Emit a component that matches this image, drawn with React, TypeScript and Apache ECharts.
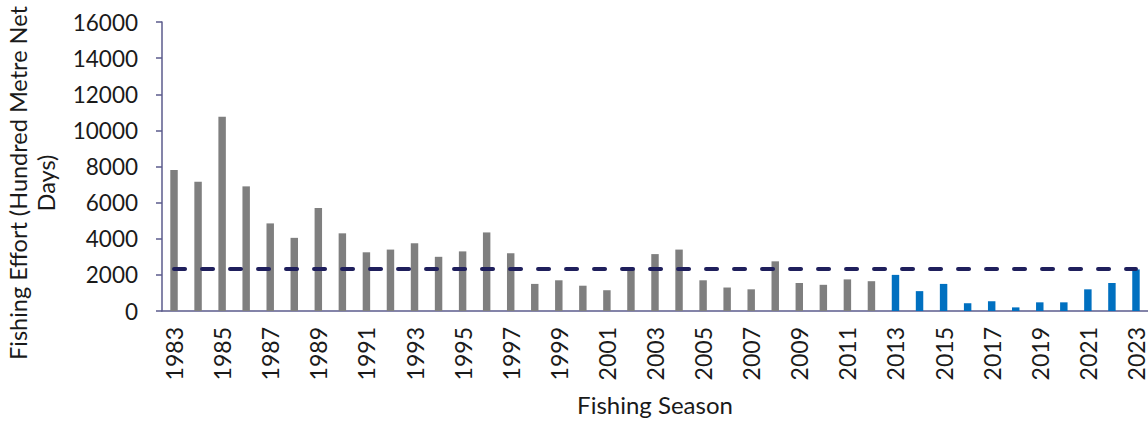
import React, { useEffect, useRef } from "react";
import * as echarts from "echarts";

const seasons: string[] = [
  "1983","1984","1985","1986","1987","1988","1989","1990","1991","1992",
  "1993","1994","1995","1996","1997","1998","1999","2000","2001","2002",
  "2003","2004","2005","2006","2007","2008","2009","2010","2011","2012",
  "2013","2014","2015","2016","2017","2018","2019","2020","2021","2022","2023",
];

const effort: number[] = [
  7800, 7150, 10750, 6900, 4850, 4050, 5700, 4300, 3250, 3400,
  3750, 3000, 3300, 4350, 3200, 1500, 1700, 1400, 1150, 2300,
  3150, 3400, 1700, 1300, 1200, 2750, 1550, 1450, 1750, 1650,
  2000, 1100, 1500, 430, 540, 200, 480, 480, 1200, 1550, 2300,
];

const referenceLevel = 2330;
const recentFromSeason = "2013";

const yTicks = { min: 0, max: 16000, interval: 2000 };

const yTitle = "Fishing Effort (Hundred Metre Net\nDays)";
const xTitle = "Fishing Season";

export default function App() {
  const ref = useRef<HTMLDivElement>(null);

  useEffect(() => {
    document.body.style.margin = "0";
    if (!ref.current) return;
    const chart = echarts.init(ref.current, undefined, { renderer: "svg" });
    const splitIdx = seasons.indexOf(recentFromSeason);
    const font = "Lato, 'Noto Sans', sans-serif";
    const textColor = "#1a1a1a";
    const axisColor = "#5b5b8c";

    chart.setOption({
      animation: false,
      textStyle: { fontFamily: font },
      grid: { left: 162, right: -3, top: 22, bottom: 110, containLabel: false },
      graphic: [
        {
          type: "text",
          x: 32,
          y: 183,
          rotation: Math.PI / 2,
          style: {
            text: yTitle,
            fontFamily: font,
            fontSize: 23.5,
            lineHeight: 28,
            fill: textColor,
            align: "center",
            verticalAlign: "middle",
          },
        },
      ],
      xAxis: {
        type: "category",
        data: seasons,
        boundaryGap: true,
        name: xTitle,
        nameLocation: "middle",
        nameGap: 81,
        nameTextStyle: { fontFamily: font, fontSize: 24, color: textColor },
        axisLine: { show: true, lineStyle: { color: axisColor, width: 1.5 } },
        axisTick: { show: false },
        axisLabel: {
          interval: 1,
          rotate: 90,
          margin: 16,
          fontFamily: font,
          fontSize: 23,
          color: textColor,
        },
      },
      yAxis: {
        type: "value",
        min: yTicks.min,
        max: yTicks.max,
        interval: yTicks.interval,
        axisLine: { show: true, lineStyle: { color: axisColor, width: 1.5 } },
        axisTick: { show: true, inside: false, length: 6, lineStyle: { color: axisColor, width: 1.5 } },
        splitLine: { show: false },
        axisLabel: {
          margin: 24,
          fontFamily: font,
          fontSize: 22.5,
          color: textColor,
          formatter: (v: number) => String(v),
        },
      },
      series: [
        {
          type: "bar",
          data: effort.map((v, i) => ({
            value: v,
            itemStyle: { color: i >= splitIdx ? "#0070c0" : "#7f7f7f" },
          })),
          barWidth: "31%",
          z: 2,
        },
        {
          type: "line",
          data: seasons.map(() => referenceLevel),
          symbol: "none",
          lineStyle: { color: "#1f1f5c", width: 4, type: [11, 17], cap: "round" },
          z: 3,
        },
      ],
    });

    return () => chart.dispose();
  }, []);

  return <div ref={ref} style={{ width: 1148, height: 421 }} />;
}
